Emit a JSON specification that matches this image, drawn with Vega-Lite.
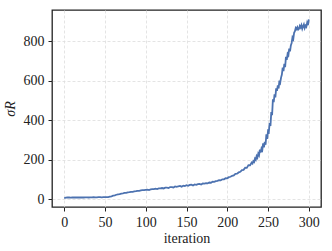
{
  "$schema": "https://vega.github.io/schema/vega-lite/v6.json",
  "width": 269,
  "height": 197,
  "autosize": {"type": "none"},
  "padding": {"left": 52, "top": 10, "right": 11, "bottom": 44},
  "background": "white",
  "config": {
    "font": "'Liberation Serif', 'Times New Roman', serif",
    "view": {"stroke": "#222222", "strokeWidth": 1.3},
    "axis": {
      "labelFont": "'Liberation Serif', 'Times New Roman', serif",
      "titleFont": "'Liberation Serif', 'Times New Roman', serif",
      "labelFontSize": 14,
      "titleFontSize": 14,
      "labelColor": "#222222",
      "titleColor": "#222222",
      "titleFontWeight": "normal",
      "domain": false,
      "tickColor": "#222222",
      "tickSize": 4,
      "tickWidth": 1,
      "labelPadding": 4,
      "gridColor": "#dddddd",
      "gridDash": [3, 2],
      "gridWidth": 0.8
    }
  },
  "data": {
    "values": [
      {"iteration": 0, "sigma": 5}, {"iteration": 2, "sigma": 7}, {"iteration": 4, "sigma": 8}, {"iteration": 6, "sigma": 8}, {"iteration": 8, "sigma": 7}, {"iteration": 10, "sigma": 8}, {"iteration": 12, "sigma": 8}, {"iteration": 14, "sigma": 9}, {"iteration": 16, "sigma": 8}, {"iteration": 18, "sigma": 8}, {"iteration": 20, "sigma": 8}, {"iteration": 22, "sigma": 9}, {"iteration": 24, "sigma": 8}, {"iteration": 26, "sigma": 9}, {"iteration": 28, "sigma": 9}, {"iteration": 30, "sigma": 8}, {"iteration": 32, "sigma": 9}, {"iteration": 34, "sigma": 9}, {"iteration": 36, "sigma": 10}, {"iteration": 38, "sigma": 9}, {"iteration": 40, "sigma": 9}, {"iteration": 42, "sigma": 10}, {"iteration": 44, "sigma": 10}, {"iteration": 46, "sigma": 9}, {"iteration": 48, "sigma": 10}, {"iteration": 50, "sigma": 10}, {"iteration": 52, "sigma": 10}, {"iteration": 54, "sigma": 10},
      {"iteration": 56, "sigma": 12}, {"iteration": 58, "sigma": 14}, {"iteration": 60, "sigma": 17}, {"iteration": 62, "sigma": 19}, {"iteration": 64, "sigma": 22}, {"iteration": 66, "sigma": 24}, {"iteration": 68, "sigma": 25}, {"iteration": 70, "sigma": 28}, {"iteration": 72, "sigma": 29}, {"iteration": 74, "sigma": 31}, {"iteration": 76, "sigma": 32}, {"iteration": 78, "sigma": 34}, {"iteration": 80, "sigma": 35}, {"iteration": 82, "sigma": 37}, {"iteration": 84, "sigma": 37}, {"iteration": 86, "sigma": 39}, {"iteration": 88, "sigma": 40}, {"iteration": 90, "sigma": 42}, {"iteration": 92, "sigma": 42}, {"iteration": 94, "sigma": 44}, {"iteration": 96, "sigma": 45}, {"iteration": 98, "sigma": 45}, {"iteration": 100, "sigma": 47},
      {"iteration": 102, "sigma": 48}, {"iteration": 104, "sigma": 46}, {"iteration": 106, "sigma": 49}, {"iteration": 108, "sigma": 50}, {"iteration": 110, "sigma": 51}, {"iteration": 112, "sigma": 53}, {"iteration": 114, "sigma": 51}, {"iteration": 116, "sigma": 54}, {"iteration": 118, "sigma": 54}, {"iteration": 120, "sigma": 56}, {"iteration": 122, "sigma": 54}, {"iteration": 124, "sigma": 58}, {"iteration": 126, "sigma": 58}, {"iteration": 128, "sigma": 56}, {"iteration": 130, "sigma": 61}, {"iteration": 132, "sigma": 61}, {"iteration": 134, "sigma": 59}, {"iteration": 136, "sigma": 64}, {"iteration": 138, "sigma": 62}, {"iteration": 140, "sigma": 65}, {"iteration": 142, "sigma": 67}, {"iteration": 144, "sigma": 63}, {"iteration": 146, "sigma": 68}, {"iteration": 148, "sigma": 66}, {"iteration": 150, "sigma": 70},
      {"iteration": 152, "sigma": 67}, {"iteration": 154, "sigma": 72}, {"iteration": 156, "sigma": 73}, {"iteration": 158, "sigma": 69}, {"iteration": 160, "sigma": 74}, {"iteration": 162, "sigma": 72}, {"iteration": 164, "sigma": 76}, {"iteration": 166, "sigma": 77}, {"iteration": 168, "sigma": 74}, {"iteration": 170, "sigma": 79}, {"iteration": 172, "sigma": 78}, {"iteration": 174, "sigma": 81}, {"iteration": 176, "sigma": 80}, {"iteration": 178, "sigma": 84}, {"iteration": 180, "sigma": 83}, {"iteration": 182, "sigma": 88}, {"iteration": 184, "sigma": 87}, {"iteration": 186, "sigma": 91}, {"iteration": 188, "sigma": 92}, {"iteration": 190, "sigma": 96}, {"iteration": 192, "sigma": 95}, {"iteration": 194, "sigma": 100}, {"iteration": 196, "sigma": 100}, {"iteration": 198, "sigma": 106},
      {"iteration": 200, "sigma": 105}, {"iteration": 202, "sigma": 111}, {"iteration": 204, "sigma": 113}, {"iteration": 206, "sigma": 118}, {"iteration": 208, "sigma": 120}, {"iteration": 210, "sigma": 128}, {"iteration": 212, "sigma": 129}, {"iteration": 214, "sigma": 135}, {"iteration": 216, "sigma": 138}, {"iteration": 218, "sigma": 147}, {"iteration": 220, "sigma": 148}, {"iteration": 222, "sigma": 159}, {"iteration": 224, "sigma": 158}, {"iteration": 226, "sigma": 172}, {"iteration": 228, "sigma": 171}, {"iteration": 230, "sigma": 185},
      {"iteration": 231, "sigma": 180}, {"iteration": 232, "sigma": 192}, {"iteration": 233, "sigma": 188}, {"iteration": 234, "sigma": 205}, {"iteration": 235, "sigma": 199}, {"iteration": 236, "sigma": 218}, {"iteration": 237, "sigma": 210}, {"iteration": 238, "sigma": 230}, {"iteration": 239, "sigma": 222}, {"iteration": 240, "sigma": 250}, {"iteration": 241, "sigma": 236}, {"iteration": 242, "sigma": 256}, {"iteration": 243, "sigma": 248}, {"iteration": 244, "sigma": 282}, {"iteration": 245, "sigma": 262}, {"iteration": 246, "sigma": 290}, {"iteration": 247, "sigma": 275}, {"iteration": 248, "sigma": 328}, {"iteration": 249, "sigma": 305}, {"iteration": 250, "sigma": 345},
      {"iteration": 251, "sigma": 340}, {"iteration": 252, "sigma": 385}, {"iteration": 253, "sigma": 370}, {"iteration": 254, "sigma": 440}, {"iteration": 255, "sigma": 425}, {"iteration": 256, "sigma": 505}, {"iteration": 257, "sigma": 490}, {"iteration": 258, "sigma": 530}, {"iteration": 259, "sigma": 515}, {"iteration": 260, "sigma": 560}, {"iteration": 261, "sigma": 548}, {"iteration": 262, "sigma": 575}, {"iteration": 263, "sigma": 560}, {"iteration": 264, "sigma": 600}, {"iteration": 265, "sigma": 590}, {"iteration": 266, "sigma": 615}, {"iteration": 267, "sigma": 630}, {"iteration": 268, "sigma": 665}, {"iteration": 269, "sigma": 648}, {"iteration": 270, "sigma": 685},
      {"iteration": 271, "sigma": 668}, {"iteration": 272, "sigma": 720}, {"iteration": 273, "sigma": 705}, {"iteration": 274, "sigma": 735}, {"iteration": 275, "sigma": 728}, {"iteration": 276, "sigma": 762}, {"iteration": 277, "sigma": 748}, {"iteration": 278, "sigma": 778}, {"iteration": 279, "sigma": 790}, {"iteration": 280, "sigma": 818}, {"iteration": 281, "sigma": 810}, {"iteration": 282, "sigma": 842}, {"iteration": 283, "sigma": 850}, {"iteration": 284, "sigma": 866}, {"iteration": 285, "sigma": 860}, {"iteration": 286, "sigma": 870}, {"iteration": 287, "sigma": 858}, {"iteration": 288, "sigma": 862}, {"iteration": 289, "sigma": 876}, {"iteration": 290, "sigma": 868},
      {"iteration": 291, "sigma": 880}, {"iteration": 292, "sigma": 862}, {"iteration": 293, "sigma": 874}, {"iteration": 294, "sigma": 884}, {"iteration": 295, "sigma": 866}, {"iteration": 296, "sigma": 878}, {"iteration": 297, "sigma": 872}, {"iteration": 298, "sigma": 892}, {"iteration": 299, "sigma": 880}, {"iteration": 300, "sigma": 910}
    ]
  },
  "mark": {"type": "line", "color": "#4c72b0", "strokeWidth": 1.8, "clip": true},
  "encoding": {
    "x": {
      "field": "iteration",
      "type": "quantitative",
      "scale": {"domain": [-15, 315], "nice": false, "zero": false},
      "axis": {"values": [0, 50, 100, 150, 200, 250, 300], "title": "iteration", "titlePadding": 2}
    },
    "y": {
      "field": "sigma",
      "type": "quantitative",
      "scale": {"domain": [-40, 957], "nice": false, "zero": false},
      "axis": {"values": [0, 200, 400, 600, 800], "title": "σR", "titlePadding": 6, "titleFontStyle": "italic"}
    }
  }
}
